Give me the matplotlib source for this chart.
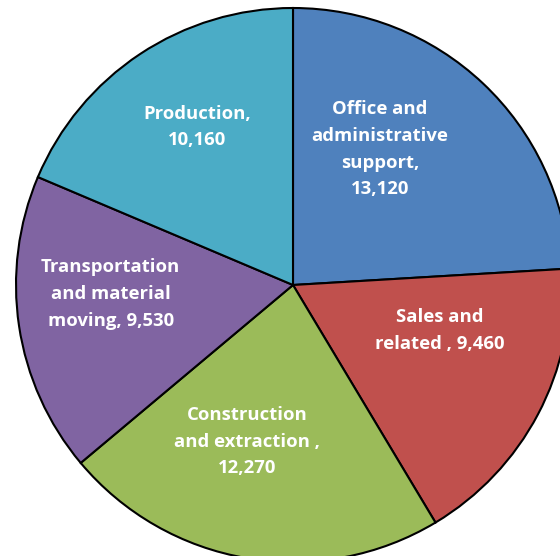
import matplotlib
matplotlib.use("Agg")
import matplotlib.pyplot as plt

categories = ["Office and\nadministrative\nsupport,", "Sales and\nrelated ,", "Construction\nand extraction ,",
              "Transportation\nand material\nmoving,", "Production,"]
values = [13120, 9460, 12270, 9530, 10160]
value_labels = ["13,120", "9,460", "12,270", "9,530", "10,160"]
joiners = ["\n", " ", "\n", " ", "\n"]
colors = ["#4F81BD", "#C0504D", "#9BBB59", "#8064A2", "#4BACC6"]
label_pos = [(0.314, 0.490), (0.531, -0.165), (-0.165, -0.565), (-0.658, -0.032), (-0.345, 0.570)]

fig = plt.figure(figsize=(5.6, 5.56), dpi=100)
ax = fig.add_axes([0, 0, 1, 1])
ax.pie(values, colors=colors, startangle=90, counterclock=False, radius=1,
       wedgeprops=dict(edgecolor="black", linewidth=1.5))
for cat, vl, j, (x, y) in zip(categories, value_labels, joiners, label_pos):
    ax.text(x, y, cat + j + vl, ha="center", va="center", color="white",
            fontsize=13.3, fontweight="bold", family=["Open Sans", "DejaVu Sans"],
            linespacing=1.62)
ax.set_xlim(-293/277, (560-293)/277)
ax.set_ylim((285-556)/277, 285/277)
ax.set_aspect("auto")
ax.axis("off")
fig.savefig("out.png", dpi=100)
